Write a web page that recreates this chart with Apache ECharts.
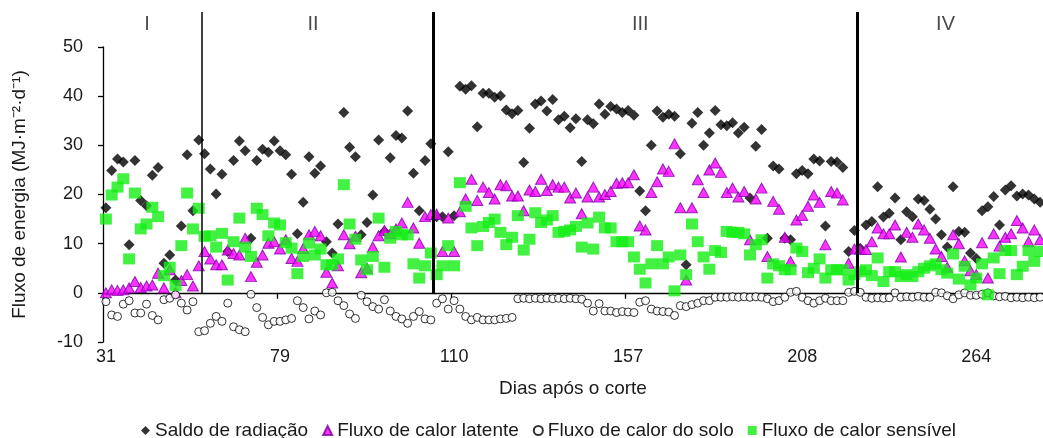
<!DOCTYPE html>
<html><head><meta charset="utf-8">
<script src="https://cdn.jsdelivr.net/npm/echarts@6/dist/echarts.min.js"></script>
<style>html,body{margin:0;padding:0;background:#fff}#c{width:1043px;height:438px}</style>
</head><body><div id="c"></div>
<script>
const saldo = [
17.3,24.9,27.2,26.6,9.8,26.9,18.8,17.7,23.9,25.5,
6.0,7.7,2.6,13.6,28.1,16.7,31.1,28.3,25.2,20.1,
24.1,8.4,26.9,30.9,28.9,11.1,26.9,29.2,28.6,30.9,
28.9,28.1,24.1,12.0,18.4,27.7,24.3,25.8,10.4,8.1,
14.0,36.7,29.6,27.7,11.8,14.3,19.9,31.1,12.5,27.5,
32.0,31.5,37.0,24.3,16.7,26.9,30.3,15.5,15.5,28.7,
15.7,42.0,41.4,42.1,33.8,40.6,40.6,39.8,40.1,37.2,
36.4,37.1,26.5,33.5,38.4,39.0,37.0,39.3,35.2,35.9,
33.6,35.4,26.7,35.2,34.4,38.4,36.3,37.9,37.4,36.7,
37.1,36.1,20.7,16.7,30.0,37.0,35.7,36.3,35.9,28.3,
5.7,34.5,36.7,30.0,32.5,37.1,34.2,34.0,34.6,32.5,
33.7,19.3,29.8,33.2,11.1,25.8,25.2,11.1,10.8,24.2,
24.9,24.2,27.2,26.8,13.6,26.7,26.6,25.5,8.4,12.7,
9.0,13.8,14.5,21.6,15.4,16.2,19.3,10.8,16.5,15.5,
19.1,18.8,17.0,15.0,11.8,9.3,21.6,12.5,12.3,8.1,
7.0,16.7,17.5,19.6,13.8,20.9,21.8,19.7,20.1,19.9,19.1,18.4];
const latente = [
0.0,0.6,0.5,0.6,1.0,2.3,1.1,1.4,1.6,4.0,
1.0,4.7,0.0,2.5,3.7,1.4,5.5,8.4,6.9,5.7,
5.7,8.7,8.0,7.7,11.1,3.3,6.2,7.7,10.1,10.4,
8.9,10.8,7.0,6.4,9.0,11.8,12.5,11.6,4.2,2.0,
5.5,11.8,10.0,11.5,4.1,5.0,9.3,11.6,12.7,12.0,
13.0,14.2,18.4,13.2,10.1,15.5,15.9,16.0,8.4,15.2,
8.4,16.5,19.1,23.1,18.8,21.5,20.4,19.1,22.0,21.8,
19.7,19.7,16.7,20.9,20.6,23.1,20.8,22.0,21.5,21.5,
19.3,20.3,16.1,19.5,21.5,19.5,20.0,20.6,22.3,22.4,
22.4,24.0,13.6,12.8,20.4,22.6,25.2,24.7,30.3,17.3,
2.6,17.3,23.0,20.4,25.0,26.4,24.5,20.4,21.3,19.5,
20.6,10.8,19.1,21.3,7.4,18.6,17.0,11.3,6.4,14.8,
15.7,17.6,19.9,18.4,9.8,20.6,20.3,18.9,6.0,8.9,
8.9,8.8,10.4,13.2,12.0,12.0,13.8,7.3,12.3,11.3,
14.0,12.8,11.1,8.9,7.4,5.2,11.8,10.0,6.5,4.5,
3.7,10.2,3.0,12.0,9.5,11.3,12.0,14.7,13.2,10.4,12.8,10.8];
const solo = [
-1.8,-4.5,-4.8,-2.3,-1.6,-4.1,-4.1,-2.3,-4.6,-5.5,
-1.4,-1.1,-0.4,-2.1,-3.5,-1.8,-7.9,-7.7,-6.2,-4.8,
-5.8,-2.1,-6.9,-7.5,-7.9,-0.3,-3.0,-5.0,-6.5,-5.8,
-5.8,-5.5,-5.2,-1.6,-3.0,-5.3,-3.7,-4.5,0.0,0.1,
-1.6,-2.6,-4.3,-5.2,-0.5,-1.8,-2.8,-3.3,-1.4,-3.7,
-4.8,-5.3,-6.2,-4.8,-3.8,-5.3,-5.5,-2.1,-1.2,-3.3,
-1.6,-3.3,-4.8,-5.5,-5.0,-5.5,-5.5,-5.5,-5.3,-5.2,
-5.0,-1.2,-1.1,-1.2,-1.1,-1.2,-1.1,-1.2,-1.1,-1.2,
-1.1,-1.2,-1.3,-2.1,-3.7,-2.2,-3.7,-3.7,-4.0,-3.8,
-3.9,-4.0,-1.9,-1.6,-3.3,-3.7,-3.8,-3.9,-4.6,-2.6,
-2.8,-2.4,-2.1,-1.6,-1.6,-0.9,-0.9,-0.9,-0.8,-0.9,
-0.8,-0.9,-0.8,-0.9,-1.2,-1.8,-1.6,-0.9,0.1,0.3,
-0.9,-1.6,-2.1,-1.6,-1.1,-1.6,-1.6,-1.6,0.1,0.3,
0.1,-0.9,-1.1,-1.0,-1.1,-1.0,0.0,-0.9,-0.8,-0.9,
-0.7,-0.9,-0.9,0.1,0.0,-0.6,-1.2,-0.4,0.0,-0.5,
-0.5,-0.3,0.0,-0.6,-0.8,-0.7,-1.0,-0.9,-1.0,-0.9,-1.0,-0.9];
const sensivel = [
15.0,19.9,21.5,23.2,6.9,20.3,13.0,14.0,17.4,15.5,
3.5,5.2,1.5,9.6,20.3,13.0,17.2,11.5,11.6,9.3,
12.1,2.6,10.4,15.2,9.3,7.4,17.2,15.9,11.6,14.2,
13.8,10.2,9.1,3.9,7.4,10.1,7.7,8.9,5.7,5.7,
6.9,22.0,14.0,10.9,6.7,4.7,7.4,15.2,5.2,11.1,
12.5,11.8,11.8,5.9,3.0,5.5,8.1,3.7,5.5,9.6,
5.5,22.4,17.6,13.2,9.6,13.5,14.3,15.0,12.3,9.8,
11.3,15.7,8.7,10.9,16.3,14.3,14.8,15.7,12.3,12.5,
12.8,13.5,9.3,14.2,8.9,15.4,13.2,13.2,10.4,10.4,
10.4,7.3,4.8,2.0,5.9,9.6,5.9,7.3,0.4,7.7,
3.7,14.0,10.4,7.3,4.8,8.6,8.2,12.5,12.3,12.3,
12.0,7.7,9.8,10.8,3.0,5.9,5.5,4.7,4.7,9.1,
8.4,4.1,5.0,6.9,3.0,4.7,4.7,4.7,2.6,3.7,
4.3,4.7,3.5,7.1,2.3,4.3,4.3,3.3,3.7,3.3,
4.3,5.0,5.5,5.9,4.7,4.0,7.9,2.8,5.4,1.6,
3.0,5.9,-0.4,7.1,3.9,8.6,8.6,3.7,5.4,8.6,6.4,8.4];
const tickLabels = ['31','79','110','157','208','264'];
const tickEvery = 30;
const categories = saldo.map((_, i) => String(i));
const phaseNames = ['I','II','III','IV'];
const phaseBounds = [17, 57, 130];
const phaseLineWidths = [1.5, 3, 3];
const phaseLabelX = [7.6, 36.2, 92.6, 145.2];
const seriesNames = ['Saldo de radiação','Fluxo de calor latente','Fluxo de calor do solo','Fluxo de calor sensível'];

const FONT = 'Liberation Sans';
const TXT = '#1a1a1a';
const chart = echarts.init(document.getElementById('c'), null, {renderer:'canvas'});
chart.setOption({
  animation: false,
  backgroundColor: '#fff',
  textStyle: {fontFamily: FONT, color: TXT},
  grid: [
    {left: 103, right: 0, top: 47, bottom: 96},
    {left: 103, right: 0, top: 12, bottom: 145}
  ],
  legend: {
    left: 136, top: 416, itemGap: 14, itemWidth: 9, itemHeight: 9,
    textStyle: {fontFamily: FONT, fontSize: 19, color: TXT},
    data: [
      {name: seriesNames[0], icon: 'diamond'},
      {name: seriesNames[1], icon: 'triangle'},
      {name: seriesNames[2], icon: 'circle'},
      {name: seriesNames[3], icon: 'rect'}
    ]
  },
  xAxis: [
    {type: 'category', gridIndex: 0, data: categories, boundaryGap: true, position: 'bottom',
     axisLine: {onZero: true, lineStyle: {color: '#000', width: 1.3}},
     axisTick: {show: true, interval: tickEvery - 1, length: 6, lineStyle: {color: '#000', width: 1.3}},
     axisLabel: {show: false}, splitLine: {show: false}},
    {type: 'category', gridIndex: 0, data: categories, boundaryGap: true, position: 'bottom',
     axisLine: {show: false, onZero: false}, axisTick: {show: false},
     axisLabel: {show: true, interval: tickEvery - 1, margin: 6, fontSize: 18, color: TXT, fontFamily: FONT,
       formatter: (v, i) => (i % tickEvery === 0 ? (tickLabels[i / tickEvery] || '') : '')},
     name: 'Dias após o corte', nameLocation: 'middle', nameGap: 37,
     nameTextStyle: {fontSize: 19, color: TXT, fontFamily: FONT}},
    {type: 'value', gridIndex: 1, min: 0, max: categories.length, show: false}
  ],
  yAxis: [
    {type: 'value', gridIndex: 0, min: -10, max: 50, interval: 10,
     axisLine: {show: true, onZero: false, lineStyle: {color: '#000', width: 1.3}},
     axisTick: {show: true, length: 5, lineStyle: {color: '#000', width: 1.3}},
     axisLabel: {fontSize: 18, color: TXT, margin: 20, fontFamily: FONT},
     splitLine: {show: false},
     name: 'Fluxo de energia (MJ·m⁻²·d⁻¹)', nameLocation: 'middle', nameGap: 74,
     nameTextStyle: {fontSize: 19, color: TXT, fontFamily: FONT}},
    {type: 'value', gridIndex: 1, min: 0, max: 1, show: false}
  ],
  series: [
    {name: seriesNames[0], type: 'scatter', xAxisIndex: 0, yAxisIndex: 0, data: saldo,
     symbol: 'diamond', symbolSize: [11, 11], itemStyle: {color: '#000'}},
    {name: seriesNames[1], type: 'scatter', xAxisIndex: 0, yAxisIndex: 0, data: latente,
     symbol: 'triangle', symbolSize: [11, 10], itemStyle: {color: '#ff00ff', borderColor: '#7a00a8', borderWidth: 1}},
    {name: seriesNames[2], type: 'scatter', xAxisIndex: 0, yAxisIndex: 0, data: solo,
     symbol: 'circle', symbolSize: 8, itemStyle: {color: '#fff', borderColor: '#000', borderWidth: 1}},
    {name: seriesNames[3], type: 'scatter', xAxisIndex: 0, yAxisIndex: 0, data: sensivel,
     symbol: 'rect', symbolSize: [12, 11], itemStyle: {color: '#14ee14'}},
    {name: 'phases', type: 'scatter', xAxisIndex: 2, yAxisIndex: 1, silent: true,
     data: phaseLabelX.map((x, i) => ({value: [x, 0.954], label: {formatter: phaseNames[i]}})),
     symbolSize: 0,
     label: {show: true, position: 'inside', fontSize: 20, color: TXT, fontFamily: FONT},
     markLine: {silent: true, symbol: ['none', 'none'], label: {show: false},
       lineStyle: {color: '#000', type: 'solid'},
       data: phaseBounds.map((b, i) => ({xAxis: b, lineStyle: {width: phaseLineWidths[i], color: '#000', type: 'solid'}}))}}
  ]
});
</script></body></html>
